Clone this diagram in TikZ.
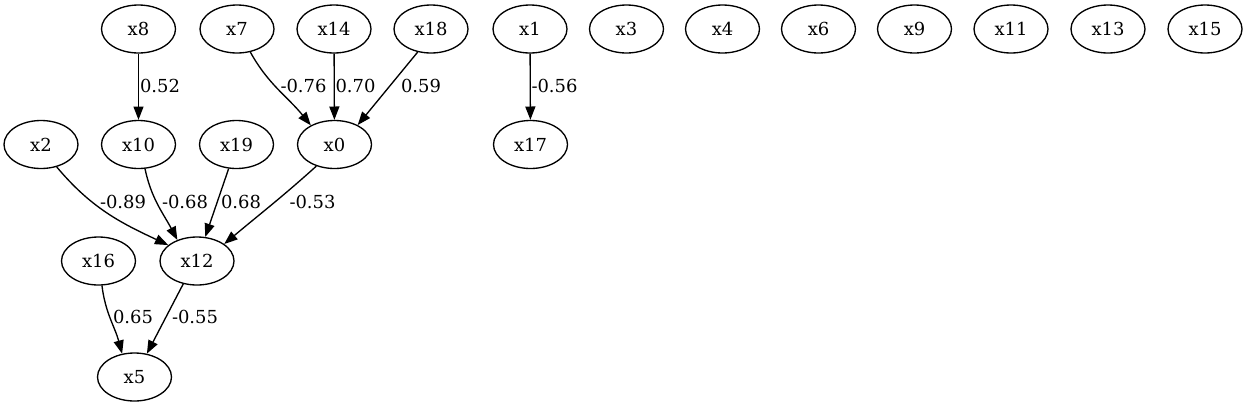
\documentclass[tikz,border=0pt]{standalone}
\usepackage{fontspec}
\setmainfont{DejaVu Serif}
\usetikzlibrary{shapes.geometric,arrows.meta}
\tikzstyle{var}=[ellipse,draw,minimum width=55.5bp,minimum height=36bp,inner sep=0pt]
\tikzstyle{wgt}=[inner sep=0pt]

\begin{document}
\begin{tikzpicture}[x=0.75bp,y=-0.75bp,line width=1bp,>={Triangle[length=10bp,width=7.5bp]},font=\fontsize{13.5}{16}\selectfont]
\useasboundingbox (0,0) rectangle (1252,407);
\node[var] (x8) at (138.5, 29) {x8};
\node[var] (x7) at (237, 29) {x7};
\node[var] (x14) at (334, 29) {x14};
\node[var] (x18) at (431, 29) {x18};
\node[var] (x1) at (530, 29) {x1};
\node[var] (x3) at (626.5, 29) {x3};
\node[var] (x4) at (722.5, 29) {x4};
\node[var] (x6) at (818.5, 29) {x6};
\node[var] (x9) at (914.5, 29) {x9};
\node[var] (x11) at (1011, 29) {x11};
\node[var] (x13) at (1108, 29) {x13};
\node[var] (x15) at (1205, 29) {x15};
\node[var] (x2) at (41, 144.5) {x2};
\node[var] (x10) at (138.5, 144.5) {x10};
\node[var] (x19) at (236.5, 144.5) {x19};
\node[var] (x0) at (334.5, 144.5) {x0};
\node[var] (x17) at (530.5, 144.5) {x17};
\node[var] (x16) at (98.5, 261) {x16};
\node[var] (x12) at (197, 261) {x12};
\node[var] (x5) at (134.5, 377) {x5};
\draw[->] (x8) -- (x10);
\draw[->] (x7.300) to[out=-61,in=129] (x0.141);
\draw[->] (x14) -- (x0);
\draw[->] (x18.240) -- (x0.40);
\draw[->] (x1) -- (x17);
\draw[->] (x2.305) to[out=-50,in=155] (x12.151);
\draw[->] (x10.285) to[out=-78,in=118] (x12.133);
\draw[->] (x19.252) -- (x12.71);
\draw[->] (x0.230) to[out=-138,in=40] (x12.32);
\draw[->] (x16.278) to[out=-83,in=105] (x5.118);
\draw[->] (x12.239) -- (x5.62);
\node[wgt] (w8) at (160, 86) {0.52};
\node[wgt] (w7) at (303.5, 86) {-0.76};
\node[wgt] (w14) at (355.5, 86) {0.70};
\node[wgt] (w18) at (421, 86) {0.59};
\node[wgt] (w1) at (554.5, 86) {-0.56};
\node[wgt] (w2) at (123, 202) {-0.89};
\node[wgt] (w10) at (185, 202) {-0.68};
\node[wgt] (w19) at (241, 202) {0.68};
\node[wgt] (w0) at (312.5, 202) {-0.53};
\node[wgt] (w16) at (133, 317) {0.65};
\node[wgt] (w12) at (195, 317) {-0.55};
\end{tikzpicture}
\end{document}
